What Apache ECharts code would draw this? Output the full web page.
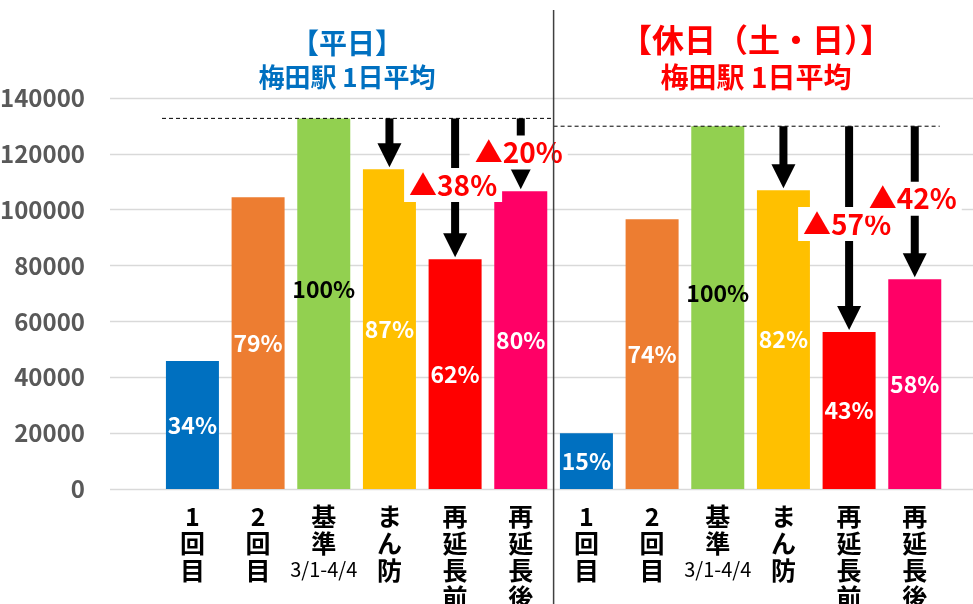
<!DOCTYPE html>
<html>
<head>
<meta charset="utf-8">
<script src="https://cdn.jsdelivr.net/npm/echarts@6/dist/echarts.min.js"></script>
<style>
  html, body { margin: 0; padding: 0; background: #fff; }
  #chart { width: 973px; height: 604px; }
</style>
</head>
<body>
<div id="chart"></div>
<script>
// ---- data ----
const categories = ['1回目', '2回目', '基準', 'まん防', '再延長前', '再延長後'];
const categorySub = ['', '', '3/1-4/4', '', '', ''];
const weekdayValues = [45800, 104500, 132700, 114500, 82300, 106600];
const weekendValues = [20000, 96600, 129900, 107000, 56200, 75100];
const weekdayPct = [34, 79, 100, 87, 62, 80];
const weekendPct = [15, 74, 100, 82, 43, 58];
const weekdayDrop = [null, null, null, null, 38, 20];
const weekendDrop = [null, null, null, null, 57, 42];
const barColors = ['#0070C0', '#ED7D31', '#92D050', '#FFC000', '#FF0000', '#FF0066'];
const yTicks = [0, 20000, 40000, 60000, 80000, 100000, 120000, 140000];
const groupTitles = ['【平日】', '【休日（土・日）】'];
const groupSubtitles = ['梅田駅 1日平均', '梅田駅 1日平均'];
const titleColors = ['#0070C0', '#FF0000'];
const baseIndex = 2;

// ---- derived ----
const n = categories.length;
const allValues = weekdayValues.concat(weekendValues);
const allPct = weekdayPct.concat(weekendPct);
const allDrop = weekdayDrop.concat(weekendDrop);
const catKeys = allValues.map((v, i) => String(i));
const FONT = '"Noto Sans CJK JP", "Noto Sans", sans-serif';

const barData = allValues.map((v, i) => ({
  value: v,
  itemStyle: { color: barColors[i % n] },
  label: i % n === baseIndex ? { color: '#000', offset: [0, -14] } : {}
}));

const arrowData = [];
[weekdayValues, weekendValues].forEach((vals, g) => {
  const base = vals[baseIndex];
  for (let k = baseIndex + 1; k < n; k++) {
    arrowData.push([g * n + k, base, vals[k]]);
  }
});

const yMax = yTicks[yTicks.length - 1];
const interval = yTicks[1] - yTicks[0];

const option = {
  animation: false,
  backgroundColor: '#fff',
  grid: [
    { left: 110, right: 0, top: 98, bottom: 115, containLabel: false, outerBoundsMode: 'none' },
    { left: 159.6, right: 25.4, top: 98, bottom: 115, containLabel: false, outerBoundsMode: 'none' }
  ],
  xAxis: [
    { gridIndex: 0, type: 'value', min: 0, max: 1, show: false },
    {
      gridIndex: 1, type: 'category', data: catKeys,
      axisLine: { show: false }, axisTick: { show: false },
      axisLabel: {
        interval: 0, margin: 14, color: '#000',
        fontFamily: FONT, fontSize: 25, fontWeight: 'bold', lineHeight: 27,
        formatter: (v) => {
          const i = Number(v) % n;
          let s = categories[i].split('').join('\n');
          if (categorySub[i]) s += '\n{s|' + categorySub[i] + '}';
          return s;
        },
        rich: { s: { fontFamily: FONT, fontSize: 20, fontWeight: 'normal', lineHeight: 24, color: '#000' } }
      }
    },
    { gridIndex: 1, type: 'value', min: 0, max: 2 * n, show: false }
  ],
  yAxis: [
    {
      gridIndex: 0, type: 'value', min: 0, max: yMax, interval: interval,
      axisLine: { show: false }, axisTick: { show: false },
      axisLabel: { color: '#595959', fontFamily: FONT, fontSize: 24, fontWeight: 'bold', margin: 25,
        formatter: (v) => String(v) },
      splitLine: { lineStyle: { color: '#d9d9d9', width: 1.3 } }
    },
    { gridIndex: 1, type: 'value', min: 0, max: yMax, interval: interval, show: false }
  ],
  series: [
    {
      type: 'bar', xAxisIndex: 1, yAxisIndex: 1,
      barWidth: 53,
      data: barData,
      label: {
        show: true, position: 'inside', color: '#fff',
        fontFamily: FONT, fontSize: 23, fontWeight: 'bold',
        formatter: (p) => allPct[p.dataIndex] + '%'
      },
      z: 2
    },
    {
      type: 'line', xAxisIndex: 2, yAxisIndex: 1, symbol: 'none', silent: true,
      data: [[-0.07, weekdayValues[baseIndex]], [n - 0.04, weekdayValues[baseIndex]]],
      lineStyle: { color: '#000', width: 1, type: [4, 3] }, z: 3
    },
    {
      type: 'line', xAxisIndex: 2, yAxisIndex: 1, symbol: 'none', silent: true,
      data: [[n, weekendValues[baseIndex]], [2 * n - 0.12, weekendValues[baseIndex]]],
      lineStyle: { color: '#000', width: 1, type: [4, 3] }, z: 3
    },
    {
      type: 'custom', xAxisIndex: 1, yAxisIndex: 1, z: 5, silent: true,
      data: arrowData,
      renderItem: (params, api) => {
        const x = api.value(0), base = api.value(1), val = api.value(2);
        const top = api.coord([x, base]);
        const tip = api.coord([x, val]);
        const shaftW = 8, headW = 24, headH = 24;
        const tipY = tip[1] - 2;
        const children = [
          { type: 'rect', shape: { x: top[0] - shaftW / 2, y: top[1], width: shaftW, height: Math.max(0, tipY - headH - top[1] + 1) }, style: { fill: '#000' } },
          { type: 'polygon', shape: { points: [[top[0] - headW / 2, tipY - headH], [top[0] + headW / 2, tipY - headH], [top[0], tipY]] }, style: { fill: '#000' } }
        ];
        const drop = allDrop[x];
        if (drop != null) {
          children.push({
            type: 'text', z2: 10,
            style: {
              text: '▲' + drop + '%', x: top[0] - 2, y: top[1] + (tipY - top[1]) * 0.48,
              align: 'center', verticalAlign: 'middle',
              fill: '#FF0000', font: 'bold 28px ' + FONT,
              backgroundColor: '#fff', padding: [3, 5, 3, 5]
            }
          });
        }
        return { type: 'group', children: children };
      }
    }
  ]
};

const chart = echarts.init(document.getElementById('chart'), null, { renderer: 'canvas' });
chart.setOption(option);

const divX = chart.convertToPixel({ xAxisIndex: 2 }, n);
const titleX = [347, 756];
const titleY = [43, 40];
const titleSize = [28, 32];
const subSize = [26, 28];
const graphics = [
  { type: 'line', shape: { x1: divX, y1: 10, x2: divX, y2: 604 }, style: { stroke: '#404040', lineWidth: 1.5 }, z: 10 }
];
for (let g = 0; g < 2; g++) {
  graphics.push({ type: 'text', style: { text: groupTitles[g], x: titleX[g], y: titleY[g], align: 'center', verticalAlign: 'middle', fill: titleColors[g], font: 'bold ' + titleSize[g] + 'px ' + FONT } });
  graphics.push({ type: 'text', style: { text: groupSubtitles[g], x: titleX[g], y: 77, align: 'center', verticalAlign: 'middle', fill: titleColors[g], font: 'bold ' + subSize[g] + 'px ' + FONT } });
}
chart.setOption({ graphic: graphics });
</script>
</body>
</html>
